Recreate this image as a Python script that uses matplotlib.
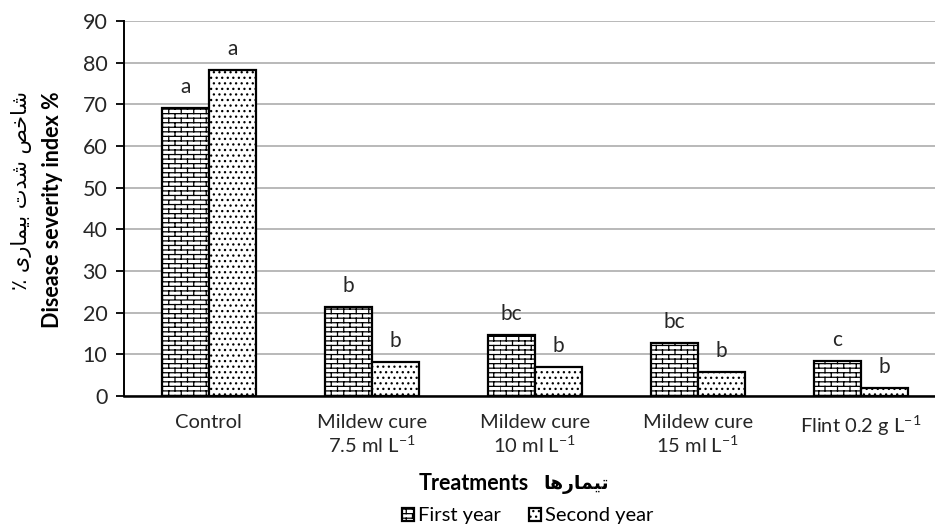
import numpy as np
import matplotlib
matplotlib.use("Agg")
import matplotlib.pyplot as plt
from matplotlib import hatch as mhatch
from matplotlib.path import Path

# ------------------------------------------------------------
# data
# ------------------------------------------------------------
treatments = ["Control",
              "Mildew cure\n7.5 ml L$^{-1}$",
              "Mildew cure\n10 ml L$^{-1}$",
              "Mildew cure\n15 ml L$^{-1}$",
              "Flint 0.2 g L$^{-1}$"]
first_year = [69.1, 21.4, 14.6, 12.8, 8.4]
second_year = [78.2, 8.1, 7.0, 5.8, 2.0]
first_letters = ["a", "b", "bc", "bc", "c"]
second_letters = ["a", "b", "b", "b", "b"]

# persian text in presentation forms (visual order) so it renders joined
fa_ylabel = "\u066A \uFEEF\uFEAD\uFE8E\uFEE4\uFEF4\uFE91 \uFE95\uFEAA\uFEB7 \uFEBA\uFEA7\uFE8E\uFEB7"
fa_xlabel = "\uFE8E\uFEEB\uFEAD\uFE8E\uFEE4\uFEF4\uFE97"


# ------------------------------------------------------------
# brick hatch (Excel-like pattern), registered as 'b'
# ------------------------------------------------------------
class BrickHatch(mhatch.HatchPatternBase):
    def __init__(self, hatch, density):
        n = hatch.count('b')
        self.rows = 22 * n if n else 0
        self.cols = 8
        if self.rows:
            self.num_vertices = 2 * (self.rows + 1) + 2 * self.rows * self.cols
        else:
            self.num_vertices = 0

    def set_vertices_and_codes(self, vertices, codes):
        k = 0
        for i in range(self.rows + 1):
            y = i / self.rows
            vertices[k] = (0, y); vertices[k + 1] = (1, y)
            codes[k] = Path.MOVETO; codes[k + 1] = Path.LINETO
            k += 2
        for i in range(self.rows):
            y0, y1 = i / self.rows, (i + 1) / self.rows
            for j in range(self.cols):
                x = (j + 0.5 * (i % 2)) / self.cols
                vertices[k] = (x, y0); vertices[k + 1] = (x, y1)
                codes[k] = Path.MOVETO; codes[k + 1] = Path.LINETO
                k += 2


mhatch._hatch_types.append(BrickHatch)

plt.rcParams['font.family'] = ['Lato', 'DejaVu Sans']
plt.rcParams['mathtext.default'] = 'regular'
plt.rcParams['hatch.linewidth'] = 0.9

fig = plt.figure(figsize=(9.35, 5.29), dpi=100)
ax = fig.add_axes([124 / 935, 1 - 396 / 529, 811 / 935, 375 / 529])

x = np.arange(len(treatments))
w = 0.288
b1 = ax.bar(x - w / 2, first_year, w, color='white', edgecolor='black',
            linewidth=1.6, hatch='b', label='First year', zorder=3)
b2 = ax.bar(x + w / 2, second_year, w, color='white', edgecolor='black',
            linewidth=1.6, hatch='...', label='Second year', zorder=3)

for bars, letters in ((b1, first_letters), (b2, second_letters)):
    for bar, lab in zip(bars, letters):
        ax.annotate(lab, (bar.get_x() + bar.get_width() / 2, bar.get_height()),
                    xytext=(0, 8), textcoords='offset points',
                    ha='center', va='bottom', fontsize=15, color='#262626')

ax.set_ylim(0, 90)
ax.set_yticks(range(0, 91, 10))
ax.set_xlim(-0.52, 4.454)
ax.set_xticks(x)
ax.set_xticklabels(treatments, fontsize=14.5, color='#262626', linespacing=1.2)
ax.tick_params(axis='x', length=0, pad=13)
ax.tick_params(axis='y', labelsize=15.5, length=6, width=1.3, colors='black',
               labelcolor='#262626', pad=6)
ax.grid(axis='y', color='#a6a6a6', linewidth=1.1, zorder=0)
ax.set_axisbelow(True)
for s in ('top', 'right'):
    ax.spines[s].set_visible(False)
ax.spines['left'].set_linewidth(1.4)
ax.spines['bottom'].set_linewidth(1.8)

# axis titles
fig.text(53 / 935, 1 - 210 / 529, "Disease severity index %", rotation=90,
         ha='center', va='center', fontsize=15.5, fontweight='bold')
fig.text(22 / 935, 1 - 191 / 529, fa_ylabel, rotation=90, ha='center',
         va='center', fontsize=15, family='DejaVu Sans')
fig.text(474 / 935, 1 - 484 / 529, "Treatments", ha='center', va='center',
         fontsize=15.5, fontweight='bold')
fig.text(576 / 935, 1 - 484 / 529, fa_xlabel, ha='center', va='center',
         fontsize=13.5, fontweight='bold', family='DejaVu Sans')

fig.legend(handles=[b1, b2], loc='center', bbox_to_anchor=(528 / 935, 1 - 516 / 529),
           ncol=2, frameon=False, fontsize=14.5, handlelength=0.6, handleheight=0.6,
           handletextpad=0.2, columnspacing=1.4, borderpad=0)

plt.savefig("out.png", dpi=100)
